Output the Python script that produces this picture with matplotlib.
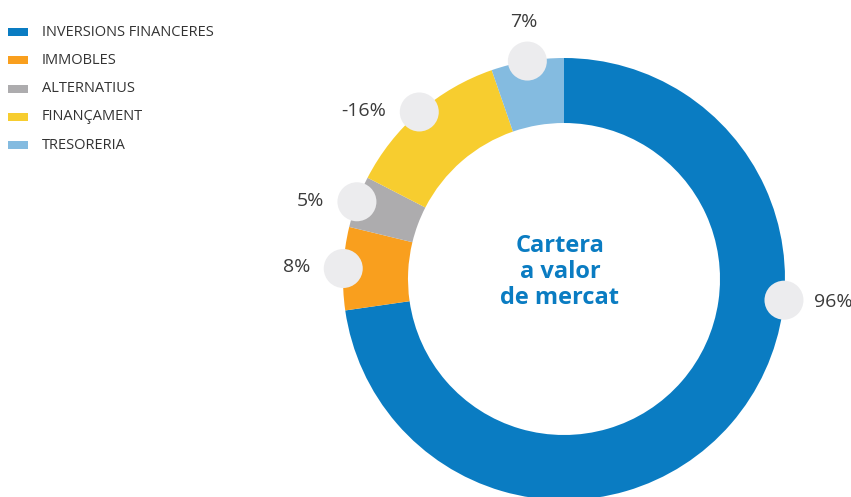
import numpy as np
import matplotlib
matplotlib.use("Agg")
import matplotlib.pyplot as plt
from matplotlib.patches import Circle, Rectangle

categories = ["INVERSIONS FINANCERES", "IMMOBLES", "ALTERNATIUS", "FINANÇAMENT", "TRESORERIA"]
values = [96, 8, 5, -16, 7]
labels = ["96%", "8%", "5%", "-16%", "7%"]
colors = ["#0a7cc2", "#f99f1e", "#adacae", "#f7cd2f", "#84bbe0"]
center_title = "Cartera\na valor\nde mercat"

plt.rcParams['font.family'] = ['Open Sans', 'DejaVu Sans']

W, H = 851, 497
fig = plt.figure(figsize=(W / 100, H / 100), dpi=100)
ax = fig.add_axes([0, 0, 1, 1])

cx, cy = 564, H - 279
R = 221
ring = 65

sizes = [abs(v) for v in values]
wedges, _ = ax.pie(sizes, colors=colors, startangle=90, counterclock=False,
                   radius=R, center=(cx, cy),
                   wedgeprops=dict(width=ring, edgecolor='none', linewidth=0))

ax.set_xlim(0, W)
ax.set_ylim(0, H)
ax.set_aspect('auto')
ax.axis('off')

# label circles
label_angle_override = {0: -5.5}
txt_color = "#3b3b3b"
for i, w in enumerate(wedges):
    ang = label_angle_override.get(i, (w.theta1 + w.theta2) / 2)
    a = np.deg2rad(ang)
    px, py = cx + R * np.cos(a), cy + R * np.sin(a)
    ax.add_patch(Circle((px, py), 19.5, facecolor="#ececee", edgecolor='none', zorder=5))
    if np.sin(a) > 0.9:
        ax.text(px - 4, py + 39, labels[i], ha='center', va='center', fontsize=14,
                color=txt_color)
    elif np.cos(a) > 0:
        ax.text(px + 30, py - 2, labels[i], ha='left', va='center', fontsize=14,
                color=txt_color)
    else:
        ax.text(px - 33, py + 1, labels[i], ha='right', va='center', fontsize=14,
                color=txt_color)

ax.text(cx - 4, cy + 7, center_title, ha='center', va='center', fontsize=17,
        fontweight='bold', color="#0a7cc2", linespacing=1.12)

# legend
for i, (cat, col) in enumerate(zip(categories, colors)):
    y = H - (32 + i * 28.3)
    ax.add_patch(Rectangle((8, y - 4), 20, 8, facecolor=col, edgecolor='none'))
    ax.text(42, y, cat, ha='left', va='center', fontsize=10.5, color="#333333")

fig.savefig("out.png", dpi=100)
